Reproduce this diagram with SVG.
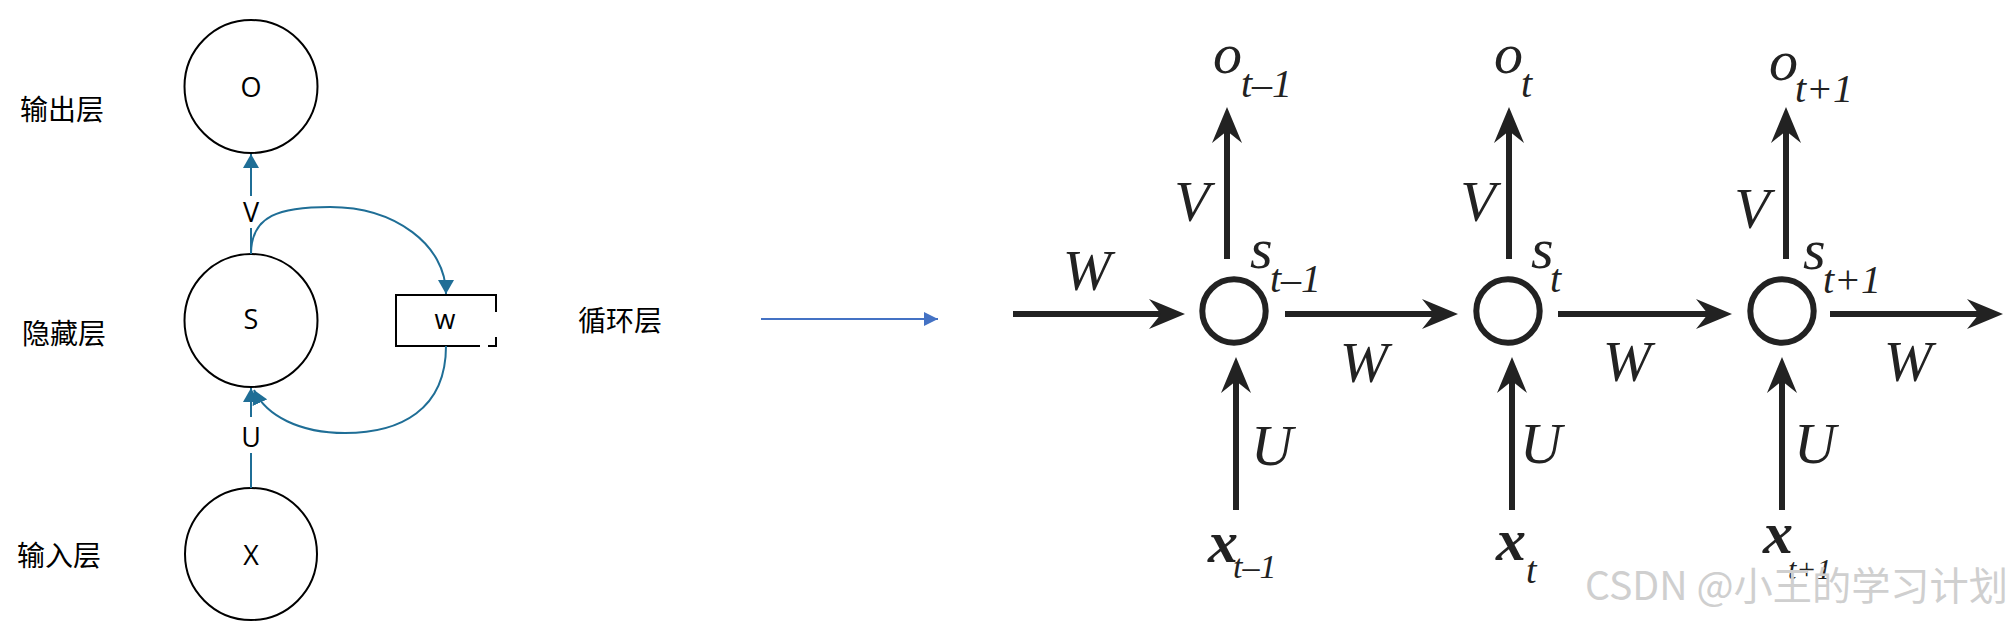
<svg xmlns="http://www.w3.org/2000/svg" width="2014" height="624" viewBox="0 0 2014 624">
<style>
.bg{fill:#ffffff}
.node{fill:none;stroke:#000;stroke-width:2}
.lbl{font-family:"Open Sans","Noto Sans",sans-serif;font-size:27px;fill:#000;text-anchor:middle}
.cn{font-family:"Noto Sans CJK SC","Noto Sans",sans-serif;font-size:28px;fill:#000}
.teal{fill:none;stroke:#1f6e96;stroke-width:2}
.blue{fill:none;stroke:#4472c4;stroke-width:2}
.blk{fill:none;stroke:#222;stroke-width:6}
.ring{fill:none;stroke:#222;stroke-width:6}
.m{font-family:"Liberation Serif","Times New Roman",serif;font-style:italic;font-size:58px;fill:#222}
.mc{text-anchor:middle}
.sub{font-size:40px}
.xb{font-weight:bold;font-size:60px}
.wm{font-family:"Noto Sans CJK SC","Noto Sans",sans-serif;font-size:39px;fill:#cfcfcf}
</style>
<defs>
<marker id="tealHead" viewBox="0 0 14 16" refX="14" refY="8" markerWidth="14" markerHeight="16" markerUnits="userSpaceOnUse" orient="auto"><path d="M0,0 L14,8 L0,16 Z" fill="#1f6e96"/></marker>
<marker id="blueHead" viewBox="0 0 14 14" refX="14" refY="7" markerWidth="14" markerHeight="14" markerUnits="userSpaceOnUse" orient="auto"><path d="M0,0 L14,7 L0,14 Z" fill="#4472c4"/></marker>
<marker id="blkHead" viewBox="-13 -16 38 32" refX="0" refY="0" markerWidth="38" markerHeight="32" markerUnits="userSpaceOnUse" orient="auto"><path d="M24,0 L-12,-15 L0,0 L-12,15 Z" fill="#222"/></marker>
</defs>
<rect class="bg" x="0" y="0" width="2014" height="624"/>

<g id="layer-labels">
<text class="cn" x="20" y="120">输出层</text>
<text class="cn" x="22" y="344">隐藏层</text>
<text class="cn" x="17" y="566">输入层</text>
<text class="cn" x="578" y="331">循环层</text>
</g>

<g id="node-O"><circle class="node" cx="251" cy="86.5" r="66.5"/><text class="lbl" x="251" y="97">O</text></g>
<g id="node-S"><circle class="node" cx="251" cy="320.5" r="66.5"/><text class="lbl" x="251" y="329">S</text></g>
<g id="node-X"><circle class="node" cx="251" cy="554" r="66"/><text class="lbl" x="251" y="565">X</text></g>
<g id="node-w"><path class="node" d="M480,346 H396 V295 H496 V312 M496,337 V346 H488"/><text class="lbl" x="445" y="329">w</text></g>

<g id="connectors">
<path class="teal" d="M251,254 V228"/>
<path class="teal" d="M251,196 V154" marker-end="url(#tealHead)"/>
<text class="lbl" x="251" y="222">V</text>
<path class="teal" d="M251,488 V453"/>
<path class="teal" d="M251,417 V388" marker-end="url(#tealHead)"/>
<text class="lbl" x="251" y="447">U</text>
<path class="teal" d="M251,254 C251,215 280,207 330,207 C395,207 446,245 446,294" marker-end="url(#tealHead)"/>
<path class="teal" d="M446,346 C446,410 400,433 345,433 C300,433 266,416 254,390" marker-end="url(#tealHead)"/>
<path class="blue" d="M761,319 H938" marker-end="url(#blueHead)"/>

<path class="blk" d="M1013,314 H1161" marker-end="url(#blkHead)"/>
<path class="blk" d="M1285,314 H1434" marker-end="url(#blkHead)"/>
<path class="blk" d="M1558,314 H1708" marker-end="url(#blkHead)"/>
<path class="blk" d="M1830,314 H1979" marker-end="url(#blkHead)"/>
<path class="blk" d="M1227,259 V131" marker-end="url(#blkHead)"/>
<path class="blk" d="M1509,259 V131" marker-end="url(#blkHead)"/>
<path class="blk" d="M1786,259 V131" marker-end="url(#blkHead)"/>
<path class="blk" d="M1236,510 V381" marker-end="url(#blkHead)"/>
<path class="blk" d="M1512,510 V381" marker-end="url(#blkHead)"/>
<path class="blk" d="M1782,510 V381" marker-end="url(#blkHead)"/>
<text class="m mc" x="1087" y="290">W</text>
<text class="m mc" x="1364" y="382">W</text>
<text class="m mc" x="1627" y="381">W</text>
<text class="m mc" x="1908" y="381">W</text>
<text class="m mc" x="1192" y="221">V</text>
<text class="m mc" x="1478" y="221">V</text>
<text class="m mc" x="1752" y="228">V</text>
<text class="m mc" x="1272" y="465">U</text>
<text class="m mc" x="1541" y="463">U</text>
<text class="m mc" x="1815" y="463">U</text>
</g>

<g id="node-s1"><circle class="ring" cx="1234" cy="311" r="31.7"/><text class="m" x="1250" y="268">s<tspan class="sub" x="1270" y="292">t–1</tspan></text></g>
<g id="node-s2"><circle class="ring" cx="1508" cy="311" r="31.7"/><text class="m" x="1531" y="268">s<tspan class="sub" x="1550" y="292">t</tspan></text></g>
<g id="node-s3"><circle class="ring" cx="1782" cy="311" r="31.7"/><text class="m" x="1803" y="269">s<tspan class="sub" x="1823" y="293">t+1</tspan></text></g>

<g id="node-o1"><text class="m" x="1213" y="73">o<tspan class="sub" x="1241" y="97">t–1</tspan></text></g>
<g id="node-o2"><text class="m" x="1494" y="73">o<tspan class="sub" x="1521" y="97">t</tspan></text></g>
<g id="node-o3"><text class="m" x="1769" y="80">o<tspan class="sub" x="1795" y="102">t+1</tspan></text></g>

<g id="node-x1"><text class="m xb" x="1208" y="562">x<tspan style="font-size:34px;font-weight:normal" x="1233" y="578">t–1</tspan></text></g>
<g id="node-x2"><text class="m xb" x="1496" y="560">x<tspan style="font-size:38px;font-weight:normal" x="1526" y="583">t</tspan></text></g>
<g id="node-x3"><text class="m xb" x="1763" y="553">x<tspan style="font-size:30px;font-weight:normal" x="1788" y="579">t+1</tspan></text></g>

<text class="wm" x="1585" y="600" textLength="423" lengthAdjust="spacingAndGlyphs">CSDN @小王的学习计划</text>
</svg>
